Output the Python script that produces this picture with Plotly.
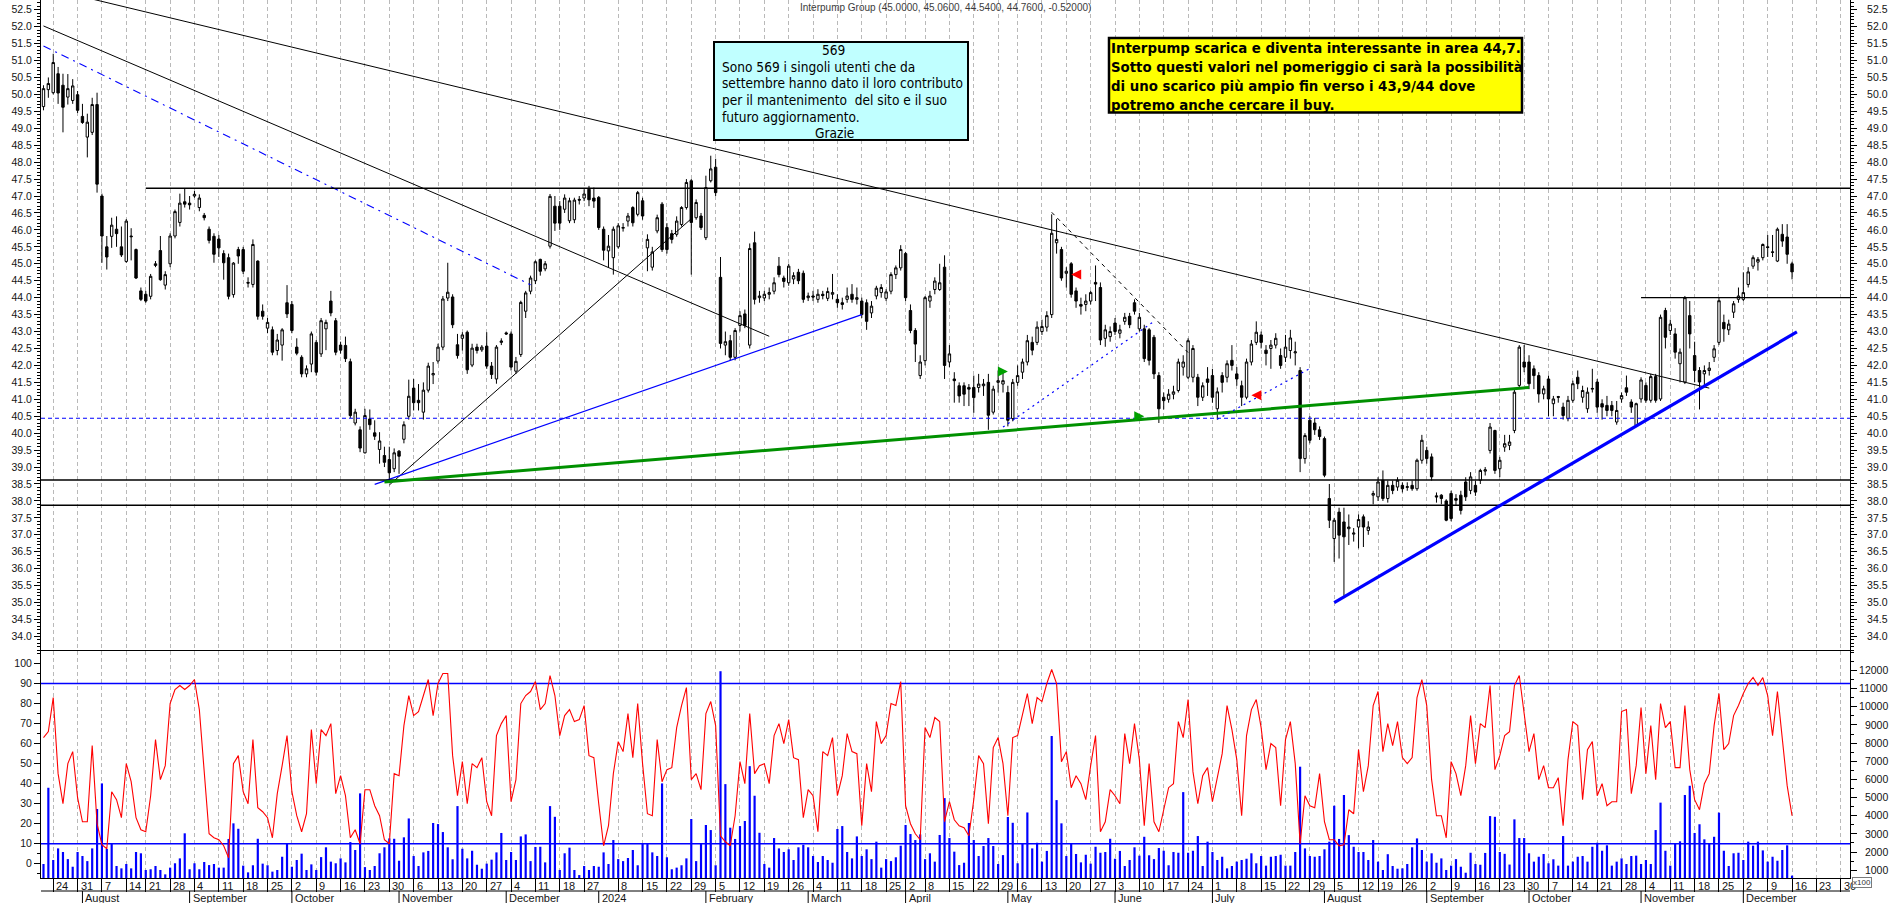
import pandas as pd
import plotly.graph_objects as go

# ---------------- DATA ----------------
FIRST_DAY = "2023-07-20"
LAST_DAY = "2024-12-16"
AXIS_LAST_DAY = "2024-12-31"
MARKET_HOLIDAYS = ["2023-08-15", "2023-12-25", "2023-12-26", "2024-01-01",
                   "2024-03-29", "2024-04-01", "2024-05-01", "2024-08-15"]
UNTICKED_WEEK_STARTS = ["2024-01-02"]
MONTH_NAMES = ["January", "February", "March", "April", "May", "June", "July",
               "August", "September", "October", "November", "December"]

OPEN = [
    49.64, 50.14, 50.05, 50.61, 50.27, 49.92, 49.82, 49.99, 49.35, 48.74,
    48.88, 49.70, 47.00, 45.50, 45.81, 46.02, 45.50, 45.07, 45.82, 45.42,
    44.20, 44.10, 44.04, 44.95, 45.39, 44.37, 45.00, 45.82, 46.22, 46.83,
    46.79, 47.00, 46.66, 46.43, 46.02, 45.81, 45.73, 45.30, 45.18, 44.09,
    45.42, 45.42, 44.45, 44.39, 45.08, 43.60, 43.10, 43.05, 42.44, 42.60,
    43.85, 43.80, 42.54, 42.24, 41.75, 42.04, 42.68, 42.34, 43.08, 43.90,
    43.32, 42.60, 42.59, 42.11, 40.30, 40.10, 39.42, 40.42, 40.01, 39.52,
    39.34, 39.22, 38.95, 39.47, 39.82, 40.50, 41.33, 40.97, 40.62, 41.27,
    41.72, 42.13, 42.54, 43.99, 44.02, 42.61, 42.80, 42.98, 42.01, 42.54,
    42.46, 42.57, 41.98, 41.60, 42.68, 42.96, 42.93, 41.83, 42.32, 43.60,
    44.19, 44.50, 45.13, 44.85, 45.52, 46.70, 46.70, 46.61, 46.27, 46.30,
    46.90, 46.94, 47.20, 46.94, 46.96, 46.02, 45.38, 45.18, 45.50, 46.05,
    46.26, 46.66, 46.46, 46.86, 45.47, 44.90, 45.97, 46.76, 46.07, 45.89,
    45.87, 46.16, 46.66, 47.45, 46.36, 46.41, 45.77, 47.45, 47.85, 44.60,
    42.60, 42.73, 42.24, 43.18, 43.52, 42.60, 45.62, 44.00, 43.99, 44.10,
    44.19, 44.93, 44.58, 44.44, 44.55, 44.75, 44.72, 44.00, 44.05, 43.95,
    44.10, 43.98, 44.10, 43.95, 43.85, 43.95, 44.10, 43.95, 43.90, 43.85,
    43.55, 44.05, 44.15, 43.98, 44.19, 44.68, 44.88, 45.30, 43.62, 43.03,
    41.70, 42.14, 43.90, 44.24, 44.24, 44.90, 42.10, 41.60, 41.40, 41.40,
    41.35, 41.35, 41.35, 41.40, 41.50, 40.62, 41.50, 41.45, 41.20, 40.43,
    41.50, 41.80, 42.10, 42.68, 42.68, 43.00, 43.13, 43.50, 45.62, 45.42,
    44.72, 45.00, 44.20, 43.80, 43.80, 43.90, 44.45, 44.30, 42.80, 42.85,
    43.25, 42.95, 43.30, 43.45, 43.85, 43.08, 43.08, 43.05, 42.83, 41.70,
    41.06, 41.00, 41.15, 41.26, 41.95, 41.65, 41.65, 41.65, 41.06, 41.60,
    41.70, 40.72, 41.70, 41.65, 42.15, 41.75, 41.40, 41.06, 42.10, 42.68,
    42.90, 42.45, 42.50, 42.60, 42.29, 42.24, 42.44, 42.37, 41.85, 39.25,
    40.38, 40.30, 40.10, 39.84, 38.07, 36.89, 37.67, 37.38, 37.18, 37.02,
    37.23, 37.53, 37.13, 38.17, 38.12, 38.61, 38.07, 38.46, 38.41, 38.46,
    38.40, 38.46, 38.36, 39.20, 39.49, 39.30, 38.15, 38.17, 38.00, 38.22,
    38.07, 38.17, 38.56, 38.31, 38.46, 38.61, 38.88, 39.49, 40.08, 38.95,
    39.59, 39.64, 40.08, 41.41, 42.10, 42.10, 41.90, 41.70, 41.16, 41.60,
    40.87, 41.08, 40.77, 40.43, 40.97, 41.65, 41.06, 40.72, 41.30, 41.51,
    40.87, 40.82, 40.82, 40.33, 41.01, 41.34, 40.92, 40.23, 41.01, 41.41,
    40.97, 41.67, 41.01, 43.62, 43.03, 42.93, 42.05, 41.51, 43.47, 42.29,
    41.85, 41.75, 41.85, 42.24, 42.68, 43.27, 43.05, 43.57, 43.95, 43.95,
    44.39, 44.93, 45.05, 45.18, 45.50, 45.35, 45.08, 45.87, 45.79, 45.00,
]
HIGH = [
    50.27, 50.50, 51.20, 50.81, 50.61, 50.60, 50.45, 50.10, 49.72, 49.43,
    49.90, 50.05, 47.07, 45.82, 46.36, 46.40, 46.10, 46.32, 46.05, 45.45,
    44.30, 44.20, 44.70, 45.08, 45.82, 44.78, 45.90, 46.60, 47.07, 47.22,
    47.00, 47.15, 47.05, 46.50, 46.10, 45.90, 45.85, 45.40, 45.30, 45.05,
    45.50, 45.50, 44.60, 45.72, 45.10, 43.80, 43.40, 43.15, 42.93, 43.10,
    44.37, 43.90, 42.80, 42.30, 42.00, 43.00, 42.75, 43.40, 43.35, 44.20,
    43.40, 42.70, 42.85, 42.20, 40.72, 40.20, 40.72, 40.70, 40.38, 40.03,
    39.60, 39.60, 39.55, 39.50, 40.35, 41.58, 41.60, 41.45, 41.50, 42.08,
    42.10, 42.64, 44.05, 45.03, 44.10, 42.93, 42.98, 43.03, 42.64, 42.64,
    42.60, 42.98, 42.10, 42.60, 42.80, 43.00, 43.00, 42.25, 43.91, 44.20,
    44.65, 45.10, 45.15, 45.08, 47.06, 47.00, 46.85, 47.05, 46.95, 46.95,
    47.00, 47.20, 47.30, 47.25, 47.00, 46.10, 45.85, 46.10, 46.20, 46.20,
    46.50, 46.70, 47.15, 46.95, 45.87, 45.50, 46.45, 46.82, 46.20, 46.00,
    46.40, 46.70, 47.50, 47.50, 46.90, 46.50, 47.60, 48.19, 48.10, 45.20,
    43.00, 42.90, 43.10, 43.60, 43.65, 45.60, 45.95, 44.20, 44.20, 44.30,
    44.60, 45.20, 44.65, 45.00, 44.75, 44.85, 44.80, 44.15, 44.20, 44.25,
    44.20, 44.30, 44.70, 44.10, 44.00, 44.30, 44.40, 44.30, 44.00, 43.95,
    43.90, 44.35, 44.40, 44.25, 44.75, 44.95, 45.55, 45.35, 43.80, 43.10,
    42.30, 44.05, 44.20, 44.60, 45.00, 45.25, 42.60, 41.80, 41.50, 41.50,
    41.45, 41.70, 41.75, 41.60, 41.75, 41.40, 41.85, 41.85, 41.40, 41.60,
    42.00, 42.20, 42.90, 42.85, 43.30, 43.35, 43.60, 46.46, 46.32, 45.50,
    44.90, 45.05, 44.30, 44.00, 44.10, 44.20, 44.95, 44.45, 43.20, 43.15,
    43.40, 43.20, 43.55, 43.55, 43.95, 43.55, 43.20, 43.10, 42.90, 41.80,
    41.20, 41.30, 41.40, 42.20, 42.30, 42.80, 42.60, 41.75, 41.50, 41.95,
    41.90, 41.35, 41.80, 42.15, 42.60, 41.95, 41.55, 42.20, 42.75, 43.30,
    43.00, 42.60, 42.75, 42.95, 42.50, 42.90, 43.05, 42.70, 41.95, 40.00,
    40.50, 40.45, 40.20, 39.90, 38.50, 37.50, 37.80, 37.80, 37.60, 37.20,
    37.60, 37.60, 37.40, 38.30, 38.70, 38.90, 38.60, 38.60, 38.70, 38.55,
    38.55, 38.60, 39.25, 39.95, 39.60, 39.40, 38.25, 38.20, 38.05, 38.30,
    38.20, 38.30, 38.70, 38.85, 38.60, 38.95, 39.00, 40.30, 40.10, 39.30,
    39.95, 39.95, 41.30, 42.60, 42.60, 42.30, 42.00, 41.80, 41.40, 41.70,
    41.10, 41.10, 40.90, 41.10, 41.55, 41.85, 41.40, 41.35, 41.90, 41.60,
    41.00, 41.10, 40.95, 40.95, 41.20, 41.70, 41.00, 40.90, 41.65, 41.50,
    41.75, 41.75, 43.50, 43.70, 43.35, 43.10, 42.50, 44.05, 43.90, 42.70,
    41.95, 42.00, 42.10, 42.60, 44.00, 43.50, 43.35, 43.90, 44.30, 44.75,
    44.90, 45.25, 45.20, 45.60, 45.85, 45.85, 46.07, 46.17, 46.17, 45.06,
]
LOW = [
    49.53, 49.90, 50.00, 49.72, 48.88, 49.70, 49.72, 49.45, 49.13, 48.14,
    48.80, 47.10, 45.03, 44.83, 45.47, 45.50, 45.20, 45.03, 45.10, 44.55,
    43.90, 43.85, 43.95, 44.90, 44.50, 44.24, 44.90, 45.75, 46.10, 46.66,
    46.60, 46.95, 46.55, 46.28, 45.60, 45.03, 45.20, 44.53, 43.95, 44.00,
    45.00, 44.70, 44.30, 44.30, 43.35, 43.35, 42.95, 42.30, 42.30, 42.14,
    43.40, 42.95, 42.30, 41.65, 41.65, 41.80, 41.70, 42.25, 42.45, 43.45,
    42.30, 42.35, 42.10, 40.45, 40.23, 39.44, 39.40, 40.10, 39.80, 39.10,
    39.00, 38.60, 38.85, 38.80, 39.70, 40.40, 40.67, 40.67, 40.40, 41.20,
    41.45, 42.05, 42.45, 43.90, 43.10, 42.20, 42.44, 41.75, 41.95, 42.35,
    42.40, 41.90, 41.60, 41.46, 42.60, 42.90, 41.85, 41.75, 42.25, 43.40,
    44.10, 44.40, 44.65, 44.78, 45.45, 45.97, 46.00, 46.50, 46.20, 46.20,
    46.75, 46.85, 46.70, 46.65, 46.00, 45.10, 44.90, 44.68, 45.45, 45.95,
    46.10, 46.10, 46.40, 46.30, 44.78, 44.80, 45.90, 45.35, 45.30, 45.60,
    45.80, 46.10, 46.60, 44.68, 46.30, 46.00, 45.70, 47.40, 47.00, 42.50,
    42.30, 42.15, 42.15, 43.00, 43.10, 42.50, 43.80, 43.85, 43.90, 43.95,
    44.10, 44.60, 44.30, 44.35, 44.40, 44.40, 43.85, 43.90, 43.90, 43.85,
    43.95, 43.90, 43.95, 43.70, 43.65, 43.85, 43.85, 43.80, 43.40, 43.05,
    43.40, 43.95, 44.00, 43.90, 44.10, 44.55, 44.80, 43.90, 42.95, 42.10,
    41.60, 42.00, 43.70, 44.10, 44.20, 41.60, 41.95, 40.90, 40.90, 40.80,
    40.80, 40.60, 41.20, 41.10, 40.10, 40.55, 41.20, 41.20, 40.20, 40.35,
    41.40, 41.60, 42.00, 42.30, 42.60, 42.90, 43.00, 43.40, 45.30, 44.50,
    44.30, 44.00, 43.70, 43.50, 43.60, 43.80, 43.90, 42.60, 42.55, 42.70,
    42.90, 42.80, 43.20, 43.10, 43.50, 43.00, 42.10, 42.00, 41.60, 40.30,
    40.70, 40.90, 41.00, 41.20, 41.70, 41.60, 41.50, 40.80, 40.95, 41.10,
    40.90, 40.40, 41.20, 41.50, 41.85, 41.40, 40.80, 41.00, 42.00, 42.60,
    42.50, 42.00, 41.90, 42.50, 41.90, 42.10, 42.20, 42.00, 38.85, 39.10,
    39.70, 39.95, 39.80, 38.70, 37.20, 36.20, 36.30, 35.20, 36.70, 36.80,
    36.60, 36.64, 37.00, 37.90, 38.00, 38.00, 37.95, 38.20, 38.30, 38.25,
    38.30, 38.30, 38.30, 39.10, 39.10, 38.60, 37.95, 37.90, 37.40, 37.40,
    37.85, 37.60, 38.00, 38.20, 38.15, 38.50, 38.75, 39.40, 38.80, 38.70,
    39.45, 39.50, 40.00, 41.30, 41.80, 41.30, 41.30, 40.90, 41.00, 40.50,
    40.50, 40.90, 40.40, 40.35, 40.90, 41.30, 40.90, 40.60, 41.20, 40.60,
    40.40, 40.50, 40.50, 40.25, 40.90, 41.10, 40.60, 40.20, 40.90, 40.90,
    40.90, 40.90, 40.95, 42.50, 42.90, 42.20, 41.50, 41.45, 42.50, 41.50,
    40.70, 41.40, 41.70, 42.10, 42.60, 42.70, 42.90, 43.40, 43.85, 43.90,
    44.30, 44.85, 44.80, 45.10, 45.20, 45.20, 45.05, 45.50, 45.00, 44.54,
]
CLOSE = [
    50.17, 50.32, 50.94, 50.04, 49.62, 50.17, 50.25, 49.53, 49.17, 49.18,
    49.70, 47.35, 45.82, 45.20, 46.14, 45.89, 45.26, 46.26, 45.80, 44.58,
    43.95, 43.90, 44.63, 45.00, 44.53, 44.68, 45.82, 46.54, 46.79, 46.76,
    46.74, 47.05, 46.94, 46.36, 45.69, 45.28, 45.47, 45.03, 44.04, 45.02,
    45.23, 44.78, 44.43, 45.57, 43.45, 43.45, 43.27, 42.39, 42.75, 43.05,
    43.52, 43.03, 42.36, 41.75, 41.90, 42.93, 41.80, 43.32, 43.27, 43.55,
    42.39, 42.45, 42.20, 40.52, 40.62, 39.56, 40.52, 40.25, 39.91, 39.77,
    39.14, 38.83, 39.42, 39.32, 40.25, 41.09, 40.90, 40.90, 41.27, 41.98,
    41.76, 42.54, 43.96, 44.16, 43.20, 42.29, 42.90, 41.87, 42.51, 42.44,
    42.54, 41.98, 41.73, 42.54, 42.72, 42.93, 41.95, 42.12, 43.86, 44.14,
    44.58, 45.06, 44.78, 45.00, 46.99, 46.20, 46.20, 46.94, 46.86, 46.88,
    46.88, 47.06, 46.89, 46.85, 46.07, 45.40, 45.52, 46.02, 46.12, 46.07,
    46.41, 46.21, 47.10, 46.41, 45.72, 45.35, 46.36, 45.42, 45.42, 45.72,
    46.26, 46.66, 47.40, 46.22, 46.81, 46.07, 47.25, 47.80, 47.10, 42.65,
    42.70, 42.24, 43.03, 43.47, 43.18, 45.45, 43.95, 44.05, 44.10, 44.15,
    44.44, 44.68, 44.48, 44.93, 44.65, 44.50, 43.95, 44.05, 44.02, 44.10,
    44.06, 44.18, 44.15, 43.85, 43.80, 44.05, 43.95, 44.00, 43.50, 43.30,
    43.75, 44.28, 44.30, 44.17, 44.68, 44.88, 45.42, 44.00, 43.03, 42.63,
    42.10, 44.00, 44.05, 44.49, 44.44, 42.00, 42.34, 41.55, 41.10, 41.15,
    41.30, 41.05, 41.45, 41.45, 40.53, 41.30, 41.55, 41.55, 40.38, 41.50,
    41.70, 42.10, 42.73, 42.45, 43.13, 43.15, 43.47, 45.90, 45.72, 44.58,
    44.78, 44.10, 43.90, 43.75, 43.90, 44.15, 44.40, 42.75, 43.05, 43.00,
    43.00, 43.05, 43.42, 43.20, 43.60, 43.42, 42.20, 42.15, 41.75, 40.72,
    40.96, 41.15, 41.22, 42.10, 42.10, 42.73, 42.50, 41.06, 41.40, 41.50,
    41.06, 41.22, 41.50, 42.05, 42.00, 41.60, 41.06, 42.10, 42.63, 42.98,
    42.68, 42.35, 42.60, 42.80, 42.00, 42.54, 42.81, 42.40, 39.25, 39.93,
    39.79, 40.10, 39.90, 38.76, 37.43, 37.43, 36.99, 36.94, 37.23, 37.05,
    37.45, 37.23, 37.23, 38.22, 38.56, 38.07, 38.46, 38.31, 38.61, 38.36,
    38.42, 38.36, 39.20, 39.79, 39.25, 38.71, 38.12, 38.07, 37.43, 37.48,
    38.02, 37.72, 38.12, 38.71, 38.26, 38.90, 38.92, 40.18, 38.90, 39.20,
    39.69, 39.74, 41.21, 42.54, 41.95, 41.46, 41.70, 41.16, 41.31, 41.01,
    41.01, 41.06, 40.52, 40.97, 41.46, 41.46, 41.26, 41.21, 41.32, 40.77,
    40.77, 40.67, 40.67, 40.67, 41.11, 41.21, 40.77, 40.87, 41.57, 40.97,
    41.67, 40.97, 43.42, 42.83, 43.22, 42.39, 42.39, 44.00, 42.93, 41.85,
    41.51, 41.85, 41.92, 42.49, 43.91, 43.08, 43.22, 43.82, 44.05, 44.15,
    44.76, 45.18, 45.13, 45.57, 45.48, 45.34, 46.02, 45.67, 45.28, 44.76,
]
STOCH = [
    63, 66, 83, 45, 30, 50, 56, 33, 21, 21,
    59, 20, 9.5, 7.5, 36, 32, 23, 50, 41, 23,
    17, 16, 34, 62, 42, 49, 80, 87, 89, 87,
    89, 92, 77, 45, 15, 13, 12, 9, 3, 50,
    54, 36, 30, 62, 28, 26, 23, 13, 35, 49,
    64, 36, 24, 16, 25, 67, 40, 67, 64, 70,
    35, 44, 34, 13, 17, 10, 37, 37, 29, 24,
    12, 10, 45, 44, 69, 84, 74, 76, 84, 92,
    74, 90, 95, 95, 54, 34, 51, 30, 50, 48,
    53, 31, 24, 64, 70, 74, 31, 42, 80, 84,
    86, 91, 77, 80, 94, 84, 64, 74, 77, 71,
    72, 79, 54, 53, 30, 9, 19, 45, 61, 56,
    75, 53, 80, 50, 25, 24, 62, 41, 47, 48,
    68, 79, 88, 42, 45, 37, 75, 81, 69, 14,
    11, 9, 24, 51, 40, 75, 45, 49, 50, 40,
    64, 70, 60, 72, 53, 52, 23, 37, 34, 16,
    56, 54, 63, 34, 44, 65, 56, 55, 19, 50,
    36, 71, 60, 64, 80, 79, 91, 29, 20, 15,
    12, 68, 63, 73, 71, 21, 31, 22, 19, 18,
    14, 32, 54, 50, 20, 58, 63, 50, 24, 63,
    64, 74, 85, 70, 83, 81, 90, 97, 90, 51,
    56, 38, 44, 40, 32, 49, 64, 16, 21, 37,
    34, 30, 65, 50, 70, 52, 19, 50, 21, 16,
    27, 38, 40, 71, 63, 82, 46, 30, 44, 48,
    31, 44, 55, 79, 67, 52, 24, 64, 77, 82,
    68, 47, 60, 58, 29, 62, 71, 50, 10, 34,
    29, 28, 45, 21, 12, 12, 9, 9.5, 27, 25,
    57, 36, 49, 79, 86, 56, 70, 59, 71, 53,
    50, 53, 83, 92, 79, 42, 24, 24, 13, 51,
    45, 34, 49, 74, 50, 70, 68, 89, 47, 54,
    64, 66, 89, 94, 74, 56, 65, 42, 49, 38,
    38, 43, 19, 52, 71, 69, 32, 57, 61, 34,
    40, 29, 31, 31, 76, 77, 35, 49, 78, 45,
    69, 42, 80, 68, 71, 48, 48, 79, 47, 32,
    27, 40, 45, 69, 85, 57, 60, 74, 79, 85,
    90, 93, 89, 93, 84, 64, 86, 63, 39, 24,
]
VOLUME_X100 = [
    1340, 5540, 1560, 2200, 2000, 1610, 1190, 2000, 1780, 1500,
    2200, 4370, 5780, 2170, 2480, 1230, 1100, 1340, 1100, 2000,
    1930, 1010, 1050, 1230, 1010, 770, 1140, 1380, 1650, 3030,
    1050, 1380, 1050, 1450, 1280, 1340, 1140, 1140, 2720, 3580,
    3280, 1250, 880, 1270, 2730, 1360, 1270, 920, 1010, 1740,
    2480, 1190, 1560, 1910, 1010, 1320, 1010, 1720, 2260, 1470,
    1380, 1650, 1430, 2550, 2110, 5230, 1170, 1010, 1230, 1930,
    2260, 2750, 2730, 1520, 2810, 3850, 1780, 1230, 1980, 2060,
    3600, 3540, 3100, 2260, 1600, 4530, 2180, 1650, 2070, 1300,
    1080, 1360, 1580, 1980, 3050, 1560, 2000, 1560, 2860, 2970,
    1500, 2280, 2290, 1430, 4530, 3940, 1010, 1930, 2240, 1010,
    730, 1230, 1010, 1230, 1190, 1980, 1340, 2660, 1610, 1500,
    1670, 2110, 1270, 2480, 2440, 1980, 1780, 5780, 1710, 1050,
    1140, 1270, 1650, 3820, 1500, 2480, 3490, 3210, 1270, 11960,
    5740, 3340, 2720, 3430, 3710, 6730, 5100, 3060, 1340, 1140,
    2770, 2200, 2000, 2150, 1560, 2260, 2400, 2260, 1780, 1450,
    1780, 1560, 1410, 3270, 3430, 2000, 1650, 2860, 1780, 2150,
    1610, 2570, 1140, 1610, 1500, 1710, 2350, 3490, 2990, 2660,
    2970, 1610, 1930, 1470, 2940, 4970, 2770, 2020, 1280, 1410,
    3600, 2660, 1780, 2330, 2770, 2330, 1340, 1830, 3930, 3610,
    1380, 2480, 4180, 2200, 2510, 1470, 2060, 8390, 4860, 3580,
    1780, 2480, 1890, 1430, 1850, 1360, 2290, 1960, 2000, 2730,
    1630, 2060, 1230, 1560, 2260, 1800, 2840, 1820, 1610, 2220,
    2070, 1270, 2000, 1960, 5300, 1960, 2070, 2880, 1230, 2570,
    2000, 1560, 1740, 1100, 1230, 1470, 1560, 1630, 1930, 1380,
    1780, 1250, 1740, 1780, 1850, 1250, 1250, 2000, 6700, 2200,
    1780, 1740, 1780, 2150, 2570, 4550, 2720, 5140, 2930, 2290,
    2000, 2000, 1560, 2660, 1470, 1010, 1880, 1230, 1080, 1100,
    1340, 2260, 2750, 2110, 1470, 1930, 1410, 1650, 1010, 1250,
    1610, 1190, 860, 1960, 1340, 1300, 1950, 3980, 3940, 2000,
    1900, 1310, 3800, 2770, 2770, 1930, 1470, 1740, 1890, 1380,
    1600, 1250, 2880, 1250, 1470, 1740, 1780, 1470, 2290, 2510,
    2070, 2370, 1250, 1470, 1650, 1340, 1780, 1800, 1340, 1560,
    1340, 3210, 4720, 2070, 1250, 2480, 2590, 5140, 5650, 3050,
    3530, 2700, 2480, 2840, 4170, 2070, 1230, 1930, 1960, 1560,
    2570, 2350, 2570, 2090, 1470, 1740, 1520, 2110, 2370, 700,
]
STOCH_LEVELS = [90, 10]

# analyst trend lines: (dates, prices)
DOWN_LONG_DATES = ["2023-07-20", "2024-11-21"];  DOWN_LONG_PRICES = [53.16, 41.33]
DOWN_SHORT_DATES = ["2023-07-20", "2024-02-20"]; DOWN_SHORT_PRICES = [52.02, 42.86]
DASHDOT_DATES = ["2023-07-20", "2023-12-08"];    DASHDOT_PRICES = [51.43, 44.38]
UP_BLACK_DATES = ["2023-10-30", "2024-01-29"];   UP_BLACK_PRICES = [38.47, 46.33]
UP_BLUE_DATES = ["2023-10-25", "2024-03-18"];    UP_BLUE_PRICES = [38.49, 43.50]
UP_GREEN_DATES = ["2023-10-27", "2024-10-01"];   UP_GREEN_PRICES = [38.56, 41.35]
DOT_A_DATES = ["2024-04-30", "2024-06-13"];      DOT_A_PRICES = [40.18, 43.30]
DOT_B_DATES = ["2024-07-02", "2024-07-29"];      DOT_B_PRICES = [40.41, 41.91]
DASH_DOWN_DATES = ["2024-05-15", "2024-06-24"];  DASH_DOWN_PRICES = [46.52, 42.38]
SUPPORT_DATES = ["2024-08-05", "2024-12-17"];    SUPPORT_PRICES = [35.00, 42.99]
RESIST_LEVEL = 47.23;   RESIST_FROM = "2023-08-21"
NEW_LEVEL = 44.00;      NEW_LEVEL_FROM = "2024-11-01"
BLUE_LEVEL = 40.44
BLACK_LEVELS = [38.62, 37.87]
GREEN_ARROWS = [("2024-05-02", 41.82), ("2024-06-11", 40.50)]
RED_ARROWS = [("2024-05-21", 44.68), ("2024-07-11", 41.12)]

TITLE_NAME = "Interpump Group"
CYAN_LINES = ["Sono 569 i singoli utenti che da",
              "settembre hanno dato il loro contributo",
              "per il mantenimento  del sito e il suo",
              "futuro aggiornamento."]
CYAN_HEAD = "569"
CYAN_TAIL = "Grazie"
YELLOW_LINES = ["Interpump scarica e diventa interessante in area 44,7.",
                "Sotto questi valori nel pomeriggio ci sarà la possibilità",
                "di uno scarico più ampio fin verso i 43,9/44 dove",
                "potremo anche cercare il buy."]

# ---------------- AXIS CATEGORIES ----------------
hol = set(pd.to_datetime(MARKET_HOLIDAYS))
trade_days = [d for d in pd.bdate_range(FIRST_DAY, LAST_DAY) if d not in hol]
future_days = list(pd.bdate_range(pd.Timestamp(LAST_DAY) + pd.Timedelta(days=1), AXIS_LAST_DAY))
axis_days = trade_days + future_days
IDX = {d.strftime("%Y-%m-%d"): i for i, d in enumerate(axis_days)}
N = len(trade_days)
X = list(range(N))
X_MIN, X_MAX = -0.51, len(axis_days) - 0.1

week_ticks, seen = [], set()
for i, d in enumerate(axis_days):
    key = tuple(d.isocalendar()[:2])
    if key in seen:
        continue
    seen.add(key)
    if i == 0 or d.strftime("%Y-%m-%d") in UNTICKED_WEEK_STARTS:
        continue
    week_ticks.append(i)

month_starts, seenm = [], set()
for i, d in enumerate(axis_days):
    key = (d.year, d.month)
    if key in seenm:
        continue
    seenm.add(key)
    if i == 0:
        continue
    month_starts.append((i, str(d.year) if d.month == 1 else MONTH_NAMES[d.month - 1]))

# ---------------- GEOMETRY ----------------
W, H = 1890, 903
PL, PR, PT, PB = 41, 1850, 0, 878
def xp(px):
    return (px - PL) / (PR - PL)
def yp(py):
    return 1 - (py - PT) / (PB - PT)

PRICE_RANGE = [33.60, 52.786]
STOCH_RANGE = [-7.09, 106.24]
VOL_RANGE = [569, 13073]
GRID = "#b9b9b9"
AX_FONT = dict(family="Liberation Sans, Arial, sans-serif", size=10.5, color="#141414")

fig = go.Figure()

fig.add_trace(go.Candlestick(
    x=X, open=OPEN, high=HIGH, low=LOW, close=CLOSE,
    increasing=dict(line=dict(color="black", width=1), fillcolor="white"),
    decreasing=dict(line=dict(color="black", width=1), fillcolor="black"),
    whiskerwidth=0, hoverinfo="skip", xaxis="x", yaxis="y", name="price"))

def line(dates, prices, color, width, dash="solid"):
    fig.add_trace(go.Scatter(
        x=[IDX[d] for d in dates], y=prices, mode="lines",
        line=dict(color=color, width=width, dash=dash),
        hoverinfo="skip", xaxis="x", yaxis="y"))

def hline(level, x0, x1, color, width, dash="solid"):
    fig.add_trace(go.Scatter(
        x=[x0, x1], y=[level, level], mode="lines",
        line=dict(color=color, width=width, dash=dash),
        hoverinfo="skip", xaxis="x", yaxis="y"))

line(DOWN_LONG_DATES, DOWN_LONG_PRICES, "black", 1)
line(DOWN_SHORT_DATES, DOWN_SHORT_PRICES, "black", 1)
line(DASHDOT_DATES, DASHDOT_PRICES, "#0000ff", 1.1, "8px,5px,2px,5px")
hline(RESIST_LEVEL, IDX[RESIST_FROM], X_MAX, "black", 1.3)
line(UP_BLACK_DATES, UP_BLACK_PRICES, "black", 1)
line(UP_BLUE_DATES, UP_BLUE_PRICES, "#0000ff", 1.2)
hline(BLUE_LEVEL, X_MIN, X_MAX, "#0000ff", 1.2, "4px,3px")
for lv in BLACK_LEVELS:
    hline(lv, X_MIN, X_MAX, "black", 1.5)
line(UP_GREEN_DATES, UP_GREEN_PRICES, "#009000", 3)
line(DOT_A_DATES, DOT_A_PRICES, "#0000ff", 1.2, "2px,4px")
line(DOT_B_DATES, DOT_B_PRICES, "#0000ff", 1.2, "2px,4px")
line(DASH_DOWN_DATES, DASH_DOWN_PRICES, "black", 1, "4px,4px")
line(SUPPORT_DATES, SUPPORT_PRICES, "#0000ff", 3.2)
hline(NEW_LEVEL, IDX[NEW_LEVEL_FROM], X_MAX, "black", 1.3)

# dummy so the right price axis is drawn
fig.add_trace(go.Scatter(x=[X[0]], y=[CLOSE[0]], mode="markers", marker=dict(opacity=0),
                         hoverinfo="skip", xaxis="x", yaxis="y3"))

# lower panel
fig.add_trace(go.Bar(x=X, y=VOLUME_X100, width=0.45, marker=dict(color="#0000ff", line=dict(width=0)),
                     hoverinfo="skip", xaxis="x2", yaxis="y2"))
for lv in STOCH_LEVELS:
    fig.add_trace(go.Scatter(x=[X_MIN, X_MAX], y=[lv, lv], mode="lines",
                             line=dict(color="#0000ff", width=1.5), hoverinfo="skip",
                             xaxis="x2", yaxis="y4"))
fig.add_trace(go.Scatter(x=X, y=STOCH, mode="lines", line=dict(color="#ff0000", width=1.1),
                         hoverinfo="skip", xaxis="x2", yaxis="y4"))

vol_ticks = list(range(1000, 13000, 1000))
vol_text = [("\u2007" if v < 10000 else "") + str(v) for v in vol_ticks]

common_x = dict(range=[X_MIN, X_MAX], tickmode="array", tickvals=week_ticks, showticklabels=False,
                showgrid=True, gridcolor=GRID, gridwidth=1, griddash="4px,3px", zeroline=False,
                fixedrange=True)
yax_common = dict(showline=True, linecolor="black", linewidth=1, ticks="outside", ticklen=6,
                  tickcolor="black", showgrid=False, zeroline=False, tickfont=AX_FONT, fixedrange=True)

fig.update_layout(
    width=W, height=H, margin=dict(l=PL, r=W - PR, t=PT, b=H - PB),
    paper_bgcolor="white", plot_bgcolor="white", showlegend=False, hovermode=False,
    xaxis=dict(domain=[0, 1], anchor="y", ticks="", showline=False,
               rangeslider=dict(visible=False), **common_x),
    xaxis2=dict(domain=[0, 1], anchor="y2", ticks="outside", ticklen=13, tickcolor="black",
                showline=True, linecolor="black", linewidth=1, mirror=True, **common_x),
    yaxis=dict(domain=[yp(650), 1], range=PRICE_RANGE, side="left", anchor="x",
               tickmode="linear", tick0=34, dtick=0.5, tickformat=".1f",
               minor=dict(ticks="outside", ticklen=3, tickcolor="black", tickmode="linear",
                          tick0=0, dtick=0.1, showgrid=False), **yax_common),
    yaxis3=dict(range=PRICE_RANGE, side="right", overlaying="y", anchor="x",
                tickmode="linear", tick0=34, dtick=0.5, tickformat=".1f", ticklabelstandoff=8,
                minor=dict(ticks="outside", ticklen=3, tickcolor="black", tickmode="linear",
                           tick0=0, dtick=0.1, showgrid=False), **yax_common),
    yaxis2=dict(domain=[0, yp(651)], range=VOL_RANGE, side="right", anchor="x2",
                tickmode="array", tickvals=vol_ticks, ticktext=vol_text,
                minor=dict(ticks="outside", ticklen=3, tickcolor="black", tickmode="linear",
                           tick0=0, dtick=500, showgrid=False), **yax_common),
    yaxis4=dict(range=STOCH_RANGE, side="left", overlaying="y2", anchor="x2",
                tickmode="array", tickvals=list(range(0, 101, 10)),
                minor=dict(ticks="outside", ticklen=3, tickcolor="black", tickmode="linear",
                           tick0=0, dtick=5, showgrid=False), **yax_common),
)

shapes = []
ann = []

# bottom axis: day numbers, rule, month separators and names
DAY_FONT = dict(family="Liberation Sans, Arial, sans-serif", size=11, color="#141414")
for i in week_ticks:
    ann.append(dict(x=i, y=0, xref="x2", yref="paper", xanchor="left", yanchor="top",
                    xshift=1, yshift=0, text=str(axis_days[i].day), showarrow=False,
                    font=DAY_FONT))
shapes.append(dict(type="line", xref="paper", yref="paper", x0=0, x1=1,
                   y0=yp(891), y1=yp(891), line=dict(color="black", width=1)))
for i, name in month_starts:
    shapes.append(dict(type="line", xref="x2", yref="paper", x0=i, x1=i,
                       y0=yp(891), y1=yp(903), line=dict(color="black", width=1)))
    ann.append(dict(x=i, y=yp(891), xref="x2", yref="paper", xanchor="left", yanchor="top",
                    xshift=1, yshift=1, text=name, showarrow=False, font=DAY_FONT))

# title
ann.append(dict(x=xp(945), y=yp(8), xref="paper", yref="paper", xanchor="center", yanchor="middle",
                text=f"{TITLE_NAME} ({OPEN[-1]:.4f}, {HIGH[-1]:.4f}, {LOW[-1]:.4f}, "
                     f"{CLOSE[-1]:.4f}, {CLOSE[-1] - CLOSE[-2]:.5f})",
                showarrow=False, font=dict(family="Liberation Sans, Arial", size=10, color="#3c3c3c")))

# cyan box
NARROW = "Liberation Sans Narrow, Arial Narrow, DejaVu Sans Condensed, Liberation Sans, sans-serif"
shapes.append(dict(type="rect", xref="paper", yref="paper", x0=xp(714), x1=xp(968),
                   y0=yp(42), y1=yp(140), fillcolor="#c0ffff", line=dict(color="black", width=2),
                   layer="above"))
CY_FONT = dict(family=NARROW, size=13.6, color="black")
ann.append(dict(x=xp(833), y=yp(50), xref="paper", yref="paper", xanchor="center", yanchor="middle",
                text=CYAN_HEAD, showarrow=False, font=CY_FONT))
for k, t in enumerate(CYAN_LINES):
    ann.append(dict(x=xp(720), y=yp(66.7 + 16.6 * k), xref="paper", yref="paper", xanchor="left",
                    yanchor="middle", text=t, showarrow=False, font=CY_FONT))
ann.append(dict(x=xp(834), y=yp(132.5), xref="paper", yref="paper", xanchor="center", yanchor="middle",
                text=CYAN_TAIL, showarrow=False, font=CY_FONT))

# yellow box
shapes.append(dict(type="rect", xref="paper", yref="paper", x0=xp(1109), x1=xp(1522),
                   y0=yp(38), y1=yp(112.5), fillcolor="#ffff00", line=dict(color="black", width=2.5),
                   layer="above"))
YL_FONT = dict(family=NARROW, size=14.8, color="black", weight="bold")
for k, t in enumerate(YELLOW_LINES):
    ann.append(dict(x=xp(1109), y=yp(47.7 + 18.9 * k), xref="paper", yref="paper", xanchor="left",
                    yanchor="middle", text=t, showarrow=False, font=YL_FONT))

# arrows
for d, p in GREEN_ARROWS:
    ann.append(dict(x=IDX[d], y=p, xref="x", yref="y", ax=-10, ay=0, text="", showarrow=True,
                    arrowhead=2, arrowsize=1, arrowwidth=2, arrowcolor="#00a000"))
for d, p in RED_ARROWS:
    ann.append(dict(x=IDX[d], y=p, xref="x", yref="y", ax=10, ay=0, text="", showarrow=True,
                    arrowhead=2, arrowsize=1, arrowwidth=2, arrowcolor="#ff0000"))

# x100 badge (kept just below the 1000 label so both stay readable)
ann.append(dict(x=xp(1852), y=yp(882), xref="paper", yref="paper", xanchor="left", yanchor="middle",
                text="x100", showarrow=False, bgcolor="white", bordercolor="#7a7a7a",
                borderwidth=1, borderpad=0,
                font=dict(family="Liberation Sans, Arial", size=8, color="#333")))

fig.update_layout(shapes=shapes, annotations=ann)

fig.write_html("out.html", include_plotlyjs=True, full_html=True,
               config={"displayModeBar": False, "staticPlot": True},
               post_script="document.body.style.margin='0';document.body.style.overflow='hidden';")
